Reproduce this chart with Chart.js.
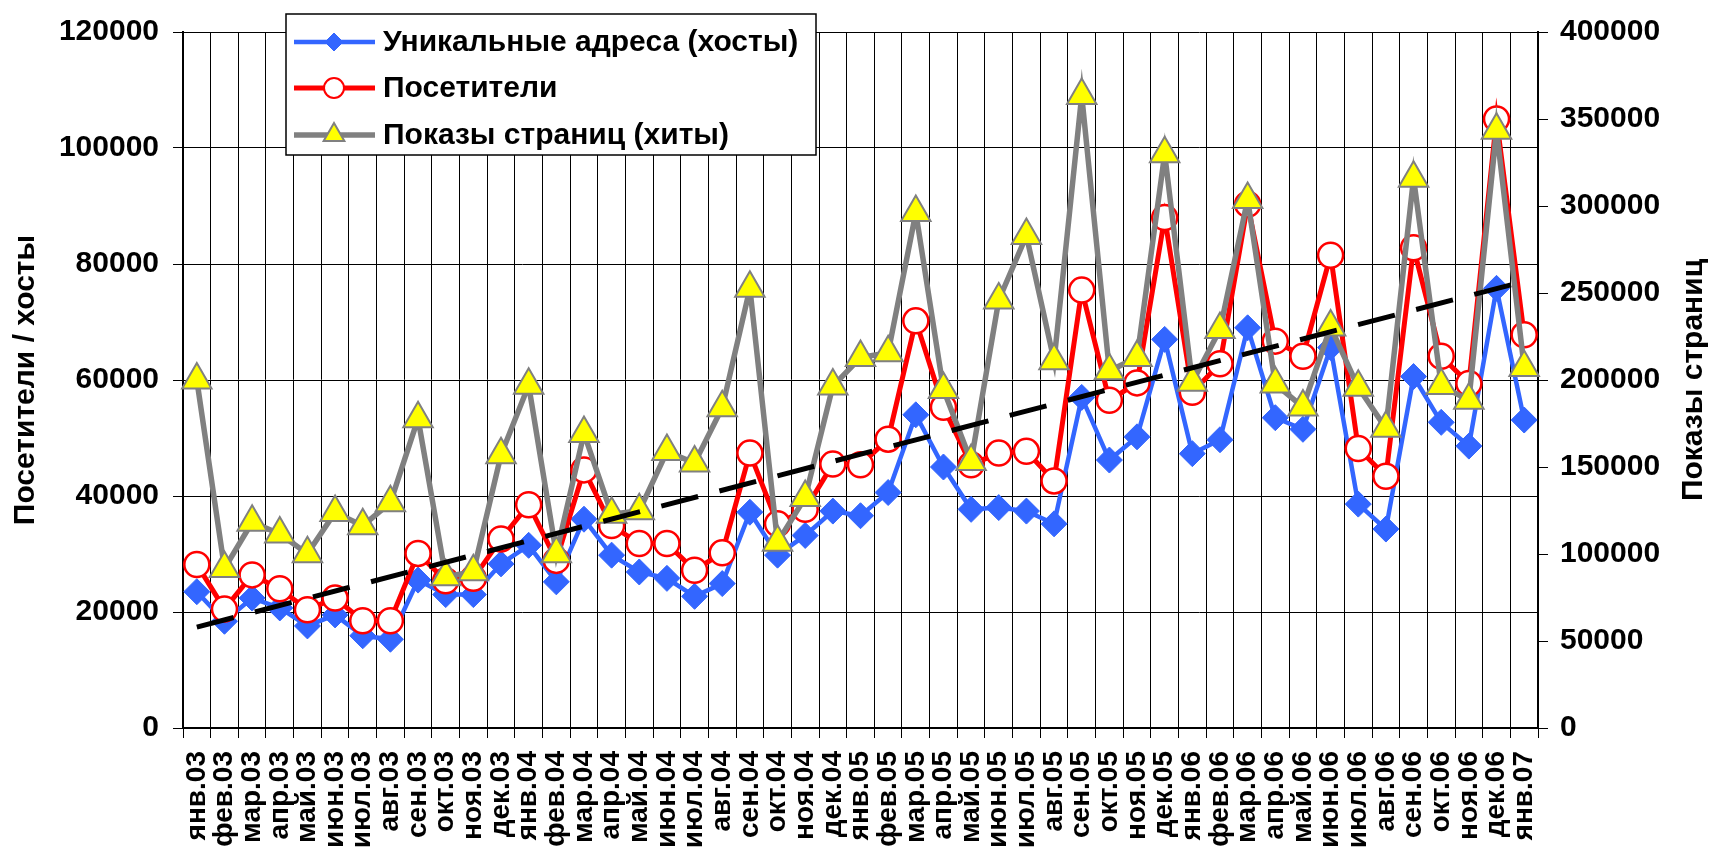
<!DOCTYPE html>
<html>
<head>
<meta charset="utf-8">
<script src="https://cdn.jsdelivr.net/npm/chart.js@4/dist/chart.umd.min.js"></script>
<style>
html,body{margin:0;padding:0;background:#fff;}
#wrap{width:1716px;height:849px;position:relative;}
</style>
</head>
<body>
<div id="wrap"><canvas id="c"></canvas></div>
<script>
const months = ['янв.03','фев.03','мар.03','апр.03','май.03','июн.03','июл.03','авг.03','сен.03','окт.03','ноя.03','дек.03',
  'янв.04','фев.04','мар.04','апр.04','май.04','июн.04','июл.04','авг.04','сен.04','окт.04','ноя.04','дек.04',
  'янв.05','фев.05','мар.05','апр.05','май.05','июн.05','июл.05','авг.05','сен.05','окт.05','ноя.05','дек.05',
  'янв.06','фев.06','мар.06','апр.06','май.06','июн.06','июл.06','авг.06','сен.06','окт.06','ноя.06','дек.06',
  'янв.07'];

const hosts = [23500,18400,22400,20700,17600,19500,15900,15300,25500,23000,23000,28300,
  31500,25200,36000,29800,26900,25800,22700,24900,37200,29800,33200,37400,
  36600,40600,54000,45000,37700,38000,37400,35200,57000,46200,50200,67000,
  47300,49700,69000,53500,51500,65600,38600,34300,60600,52700,48600,75800,
  53100];

const visitors = [28200,20500,26400,24000,20400,22400,18500,18500,30100,25400,25800,32600,
  38500,28900,44500,34900,31800,31800,27200,30200,47400,35200,37700,45500,
  45400,49800,70200,55300,45400,47400,47700,42600,75500,56500,59500,88000,
  57900,62800,90300,66700,64100,81500,48200,43400,82800,64100,59400,105000,
  67800];

const hits = [200000,91700,118200,111500,100200,123900,116300,129500,177800,86900,89800,157000,
  197000,100200,169300,122900,124800,158900,152300,184000,252700,106800,132400,196500,
  212900,215700,296200,194500,153200,246000,283000,211000,363500,205300,212900,330000,
  198700,229000,303800,197700,184500,230500,195800,172200,316000,196800,188300,343600,
  207200];

const trendValues = [17400, 77000];   // linear trend: first and last month

const seriesNames = ['Уникальные адреса (хосты)','Посетители','Показы страниц (хиты)'];
const leftTitle = 'Посетители / хосты';
const rightTitle = 'Показы страниц';

const FONT = "'Liberation Sans', Arial, Helvetica, sans-serif";
const BLUE = '#3366FF', RED = '#FF0000', GRAY = '#808080', YELLOW = '#FFFF00';

function drawMarker(ctx, style, x, y, r, fill, stroke, lw) {
  ctx.save();
  ctx.beginPath();
  if (style === 'rectRot') {
    ctx.moveTo(x - r, y); ctx.lineTo(x, y - r); ctx.lineTo(x + r, y); ctx.lineTo(x, y + r); ctx.closePath();
  } else if (style === 'circle') {
    ctx.arc(x, y, r, 0, Math.PI * 2);
  } else if (style === 'triangle') {
    for (let k = 0; k < 3; k++) {
      const a = k * 2 * Math.PI / 3;
      const px = x + Math.sin(a) * r, py = y - Math.cos(a) * r;
      if (k === 0) ctx.moveTo(px, py); else ctx.lineTo(px, py);
    }
    ctx.closePath();
  }
  ctx.fillStyle = fill; ctx.fill();
  ctx.lineWidth = lw; ctx.strokeStyle = stroke; ctx.stroke();
  ctx.restore();
}

const overlay = {
  id: 'overlay',
  afterDraw(chart) {
    const ctx = chart.ctx;
    const a = chart.chartArea;
    const cy = (a.top + a.bottom) / 2;
    ctx.save();
    ctx.font = 'bold 30px ' + FONT;
    ctx.fillStyle = '#000';
    ctx.textAlign = 'center';
    ctx.textBaseline = 'middle';
    ctx.save(); ctx.translate(26, cy); ctx.rotate(-Math.PI / 2); ctx.fillText(leftTitle, 0, 0); ctx.restore();
    ctx.save(); ctx.translate(1694, cy); ctx.rotate(-Math.PI / 2); ctx.fillText(rightTitle, 0, 0); ctx.restore();

    // legend box inside the plot area
    const bx = a.left + 103, by = 14, bw = 530, bh = 141;
    ctx.fillStyle = '#fff';
    ctx.fillRect(bx, by, bw, bh);
    ctx.lineWidth = 1.5; ctx.strokeStyle = '#000';
    ctx.strokeRect(bx, by, bw, bh);
    const rows = [by + 28, by + 74, by + 121];
    const specs = [
      {style: 'rectRot', line: BLUE, lw: 4.5, r: 9, fill: BLUE, stroke: BLUE, mlw: 1},
      {style: 'circle', line: RED, lw: 5, r: 10, fill: '#fff', stroke: RED, mlw: 2},
      {style: 'triangle', line: GRAY, lw: 5.5, r: 12, fill: YELLOW, stroke: GRAY, mlw: 2}
    ];
    for (let i = 0; i < 3; i++) {
      const y = rows[i], s = specs[i];
      ctx.beginPath(); ctx.moveTo(bx + 8, y); ctx.lineTo(bx + 89, y);
      ctx.lineWidth = s.lw; ctx.strokeStyle = s.line; ctx.stroke();
      drawMarker(ctx, s.style, bx + 48, y, s.r, s.fill, s.stroke, s.mlw);
      ctx.fillStyle = '#000'; ctx.textAlign = 'left'; ctx.textBaseline = 'middle';
      ctx.font = 'bold 30px ' + FONT;
      ctx.fillText(chart.data.datasets[i].label, bx + 97, y + 1);
    }
    ctx.restore();
  }
};

const tickFont = {family: FONT, size: 30, weight: 'bold'};

new Chart(document.getElementById('c'), {
  type: 'line',
  data: {
    labels: months,
    datasets: [
      {label: seriesNames[0], data: hosts, yAxisID: 'y', borderColor: BLUE, backgroundColor: BLUE,
       borderWidth: 4.5, pointStyle: 'rectRot', pointRadius: 13, pointHoverRadius: 13, pointBorderWidth: 1,
       pointBackgroundColor: BLUE, pointBorderColor: BLUE, order: 3},
      {label: seriesNames[1], data: visitors, yAxisID: 'y', borderColor: RED, backgroundColor: '#fff',
       borderWidth: 5, pointStyle: 'circle', pointRadius: 12.5, pointHoverRadius: 12.5, pointBorderWidth: 2.5,
       pointBackgroundColor: '#fff', pointBorderColor: RED, order: 2},
      {label: seriesNames[2], data: hits, yAxisID: 'y1', borderColor: GRAY, backgroundColor: YELLOW,
       borderWidth: 5.5, pointStyle: 'triangle', pointRadius: 17, pointHoverRadius: 17, pointBorderWidth: 2,
       pointBackgroundColor: YELLOW, pointBorderColor: GRAY, order: 1},
      {label: 'trend', data: [{x: months[0], y: trendValues[0]}, {x: months[months.length - 1], y: trendValues[1]}],
       yAxisID: 'y', borderColor: '#000', borderWidth: 5, borderDash: [38, 22], pointRadius: 0, order: 0}
    ]
  },
  options: {
    responsive: true,
    maintainAspectRatio: false,
    animation: false,
    devicePixelRatio: 1,
    layout: {padding: {top: 24, left: 0, right: 0, bottom: 0}},
    plugins: {legend: {display: false}, tooltip: {enabled: false}, title: {display: false}},
    elements: {line: {tension: 0}},
    scales: {
      x: {
        type: 'category', offset: true,
        grid: {offset: true, color: '#000', lineWidth: 1, drawTicks: true, tickLength: 10, tickColor: '#000'},
        border: {color: '#000', width: 2},
        ticks: {autoSkip: false, maxRotation: 90, minRotation: 90, padding: 13, color: '#000',
                font: {family: FONT, size: 28, weight: 'bold'}},
        afterFit(s) { s.height = 121; }
      },
      y: {
        position: 'left', min: 0, max: 120000,
        ticks: {stepSize: 20000, padding: 14, color: '#000', font: tickFont, callback: v => String(v)},
        grid: {color: '#000', lineWidth: 1, tickLength: 10, tickColor: '#000'},
        border: {color: '#000', width: 2},
        afterFit(s) { s.width = 183; }
      },
      y1: {
        position: 'right', min: 0, max: 400000,
        ticks: {stepSize: 50000, padding: 12, color: '#000', font: tickFont, callback: v => String(v)},
        grid: {drawOnChartArea: false, tickLength: 10, color: '#000', tickColor: '#000'},
        border: {color: '#000', width: 2},
        afterFit(s) { s.width = 178; }
      }
    }
  },
  plugins: [overlay]
});
</script>
</body>
</html>
